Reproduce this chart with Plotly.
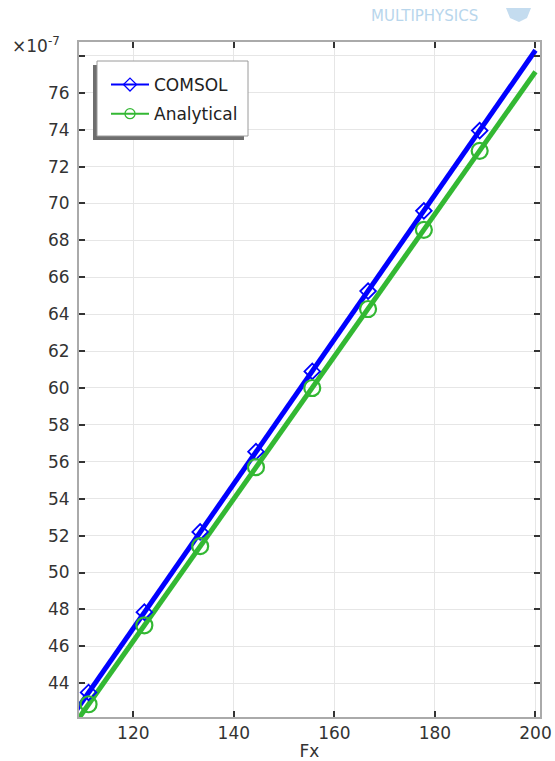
import plotly.graph_objects as go

# Data (displacement in units of 1e-7)
fx = [100.0, 111.1, 122.2, 133.3, 144.4, 155.6, 166.7, 177.8, 188.9, 200.0]
comsol = [39.15, 43.50, 47.85, 52.20, 56.55, 60.90, 65.25, 69.60, 73.95, 78.30]
analytical = [38.57, 42.86, 47.14, 51.43, 55.71, 60.00, 64.28, 68.57, 72.85, 77.14]

x_ticks = [120, 140, 160, 180, 200]
y_ticks = [44, 46, 48, 50, 52, 54, 56, 58, 60, 62, 64, 66, 68, 70, 72, 74, 76, 78]
y_ticktext = [str(v) for v in y_ticks[:-1]] + [""]

BLUE = "#0000ff"
GREEN = "#33b833"
FONT = "DejaVu Sans"

W, H = 555, 761
L, R, T, B = 79, 15, 42, 44
PW, PH = W - L - R, H - T - B


def px(xp):
    return (xp - L) / PW


def py(yp):
    return (H - B - yp) / PH


fig = go.Figure()

# line traces
fig.add_trace(go.Scatter(x=fx, y=comsol, mode="lines",
                         line=dict(color=BLUE, width=5), showlegend=False, hoverinfo="skip"))
fig.add_trace(go.Scatter(x=fx, y=analytical, mode="lines",
                         line=dict(color=GREEN, width=5), showlegend=False, hoverinfo="skip"))
# marker traces
fig.add_trace(go.Scatter(x=fx[1:-1], y=comsol[1:-1], mode="markers",
                         marker=dict(symbol="diamond-open", size=12, color=BLUE,
                                     line=dict(width=1.8, color=BLUE)),
                         showlegend=False))
fig.add_trace(go.Scatter(x=fx[1:-1], y=analytical[1:-1], mode="markers",
                         marker=dict(symbol="circle-open", size=16, color=GREEN,
                                     line=dict(width=2.2, color=GREEN)),
                         showlegend=False))
# legend-only traces
fig.add_trace(go.Scatter(x=[None], y=[None], mode="lines+markers", name="COMSOL",
                         legendgroup="a",
                         line=dict(color=BLUE, width=2),
                         marker=dict(symbol="diamond-open", size=10, color=BLUE,
                                     line=dict(width=1.3, color=BLUE))))
fig.add_trace(go.Scatter(x=[None], y=[None], mode="lines+markers", name="Analytical",
                         legendgroup="b",
                         line=dict(color=GREEN, width=2),
                         marker=dict(symbol="circle-open", size=10, color=GREEN,
                                     line=dict(width=1.3, color=GREEN))))

axis_common = dict(
    showgrid=True, gridcolor="#e6e6e6", gridwidth=1,
    showline=True, linecolor="#aaaaaa", linewidth=2, mirror="ticks",
    ticks="inside", ticklen=6, tickwidth=1.5, tickcolor="#333333",
    zeroline=False, automargin=False,
    tickfont=dict(family=FONT, size=17, color="#333333"),
)

fig.update_xaxes(range=[109.2, 200.9], tickvals=x_ticks,
                 title=dict(text="Fx", font=dict(family=FONT, size=17, color="#333333"),
                            standoff=5),
                 **axis_common)
fig.update_yaxes(range=[42.17, 78.75], tickvals=y_ticks, ticktext=y_ticktext,
                 ticklabelstandoff=4, **axis_common)

# legend shadow and box
fig.add_shape(type="rect", xref="paper", yref="paper",
              x0=px(93), x1=px(244), y0=py(140), y1=py(65),
              fillcolor="#6e6e6e", line=dict(width=0), layer="above")
fig.add_shape(type="rect", xref="paper", yref="paper",
              x0=px(97), x1=px(248), y0=py(136), y1=py(61),
              fillcolor="white", line=dict(width=1, color="#9a9a9a"), layer="above")
# watermark logo (faint)
fig.add_shape(type="path", xref="paper", yref="paper",
              path=f"M {px(506)},{py(8)} L {px(531)},{py(8)} L {px(527)},{py(18)} "
                   f"L {px(519)},{py(22)} L {px(510)},{py(18)} Z",
              fillcolor="#c4dcef", line=dict(width=0), layer="above")

fig.update_layout(
    width=W, height=H,
    margin=dict(l=L, r=R, t=T, b=B, autoexpand=False),
    paper_bgcolor="white", plot_bgcolor="white",
    font=dict(family=FONT, size=17, color="#333333"),
    legend=dict(x=px(106), y=py(67), xanchor="left", yanchor="top",
                bgcolor="rgba(0,0,0,0)", borderwidth=0,
                font=dict(family=FONT, size=17, color="#222222"),
                itemwidth=38, traceorder="grouped", tracegroupgap=4),
    annotations=[
        dict(text="×10<sup>-7</sup>", xref="paper", yref="paper",
             x=px(62), y=py(45), xanchor="right", yanchor="middle",
             showarrow=False, font=dict(family=FONT, size=17, color="#333333")),
        dict(text="MULTIPHYSICS", xref="paper", yref="paper",
             x=px(369), y=py(16), xanchor="left", yanchor="middle",
             showarrow=False, font=dict(family=FONT, size=15, color="#b8d6ec")),
    ],
)

fig.write_html("out.html", config={"displayModeBar": False},
               post_script="document.body.style.margin='0';")
